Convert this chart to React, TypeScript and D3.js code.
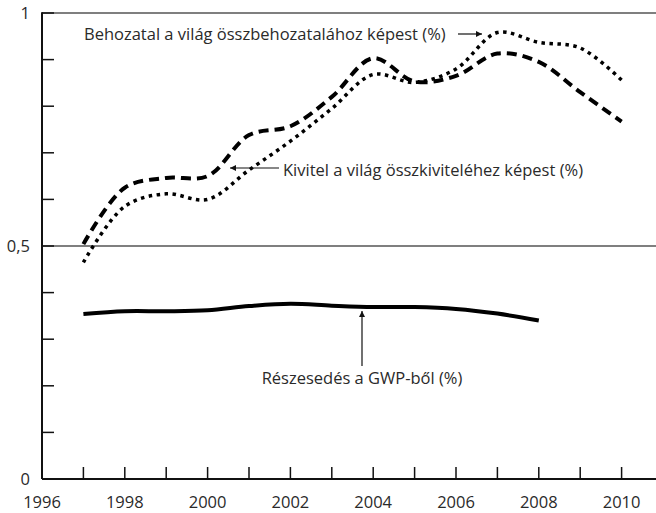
import React from "react";
import * as d3 from "d3";

const width = 656;
const height = 513;
const margin = { top: 13, right: 0, bottom: 34, left: 42 };

const years = [1997, 1998, 1999, 2000, 2001, 2002, 2003, 2004, 2005, 2006, 2007, 2008, 2009, 2010];
// behozatal (import), dotted
const importShare = [0.465, 0.585, 0.612, 0.6, 0.663, 0.725, 0.795, 0.868, 0.851, 0.88, 0.958, 0.937, 0.925, 0.856];
// kivitel (export), dashed
const exportShare = [0.504, 0.625, 0.646, 0.65, 0.738, 0.757, 0.82, 0.903, 0.853, 0.865, 0.913, 0.895, 0.83, 0.767];
// GWP share, solid, ends 2008
const gwpYears = [1997, 1998, 1999, 2000, 2001, 2002, 2003, 2004, 2005, 2006, 2007, 2008];
const gwpShare = [0.354, 0.36, 0.36, 0.362, 0.371, 0.376, 0.372, 0.369, 0.369, 0.365, 0.355, 0.34];

const xLabelYears = [1996, 1998, 2000, 2002, 2004, 2006, 2008, 2010];
const yTickValues = [0, 0.1, 0.2, 0.3, 0.4, 0.5, 0.6, 0.7, 0.8, 0.9, 1];
const yLabelValues = [0, 0.5, 1];

const huFormat = d3.formatLocale({ decimal: ",", thousands: " ", grouping: [3], currency: ["", " Ft"] }).format("~g");

const font = "'Open Sans', sans-serif";
const fontSize = 16.5;
const textColor = "#2a2a2a";

export default function App() {
  const x = d3.scaleLinear().domain([1996, 2010]).range([margin.left, margin.left + 14 * 41.4]);
  const y = d3.scaleLinear().domain([0, 1]).range([height - margin.bottom, margin.top]);

  const line = d3
    .line<[number, number]>()
    .x((d) => x(d[0]))
    .y((d) => y(d[1]))
    .curve(d3.curveCatmullRom.alpha(0.5));

  const imp = line(years.map((yr, i) => [yr, importShare[i]] as [number, number]));
  const exp = line(years.map((yr, i) => [yr, exportShare[i]] as [number, number]));
  const gwp = line(gwpYears.map((yr, i) => [yr, gwpShare[i]] as [number, number]));

  const x0 = margin.left;
  const yBase = y(0);

  return (
    <svg width={width} height={height} style={{ position: "absolute", left: 0, top: 0 }}>
      <defs>
        <marker id="arrow" viewBox="0 0 10 10" refX="10" refY="5" markerWidth="10" markerHeight="6" markerUnits="userSpaceOnUse" orient="auto">
          <path d="M0,0 L10,5 L0,10 z" fill="#111" />
        </marker>
      </defs>

      {/* reference lines at 0.5 and 1 */}
      <line x1={x0} x2={width} y1={y(1)} y2={y(1)} stroke="#555" strokeWidth={1.5} />
      <line x1={x0} x2={width} y1={y(0.5)} y2={y(0.5)} stroke="#555" strokeWidth={1.5} />

      {/* y axis */}
      <line x1={x0} x2={x0} y1={y(1) - 0.75} y2={yBase} stroke="#111" strokeWidth={2} />
      {yTickValues.map((v) => (
        <line key={v} x1={x0} x2={x0 + 12} y1={y(v)} y2={y(v)} stroke="#111" strokeWidth={1.5} />
      ))}
      {yLabelValues.map((v) => (
        <text key={v} x={30} y={y(v)} dy="0.35em" textAnchor="end" fontFamily={font} fontSize={fontSize} fill={textColor}>
          {huFormat(v)}
        </text>
      ))}

      {/* x axis */}
      <line x1={x0} x2={width} y1={yBase} y2={yBase} stroke="#111" strokeWidth={2.2} />
      {d3.range(1997, 2011).map((yr) => (
        <line key={yr} x1={x(yr)} x2={x(yr)} y1={yBase} y2={yBase - 12} stroke="#111" strokeWidth={1.5} />
      ))}
      {xLabelYears.map((yr) => (
        <text key={yr} x={x(yr)} y={502} dy="0.35em" textAnchor="middle" fontFamily={font} fontSize={fontSize} fill={textColor}>
          {yr}
        </text>
      ))}

      {/* series */}
      <path d={gwp ?? ""} fill="none" stroke="#000" strokeWidth={4} />
      <path d={exp ?? ""} fill="none" stroke="#000" strokeWidth={4} strokeDasharray="10,6" />
      <path d={imp ?? ""} fill="none" stroke="#000" strokeWidth={3.5} strokeDasharray="3.5,4.5" />

      {/* annotations */}
      <text x={84} y={34} dy="0.35em" fontFamily={font} fontSize={fontSize} fill={textColor}>
        Behozatal a világ összbehozatalához képest (%)
      </text>
      <line x1={458} x2={482} y1={34} y2={34} stroke="#111" strokeWidth={1.2} markerEnd="url(#arrow)" />

      <text x={283} y={170} dy="0.35em" fontFamily={font} fontSize={fontSize} fill={textColor}>
        Kivitel a világ összkiviteléhez képest (%)
      </text>
      <line x1={279} x2={230} y1={168} y2={168} stroke="#111" strokeWidth={1.2} markerEnd="url(#arrow)" />

      <text x={362} y={378} dy="0.35em" textAnchor="middle" fontFamily={font} fontSize={fontSize} fill={textColor}>
        Részesedés a GWP-ből (%)
      </text>
      <line x1={362} x2={362} y1={366} y2={311} stroke="#111" strokeWidth={1.2} markerEnd="url(#arrow)" />
    </svg>
  );
}
